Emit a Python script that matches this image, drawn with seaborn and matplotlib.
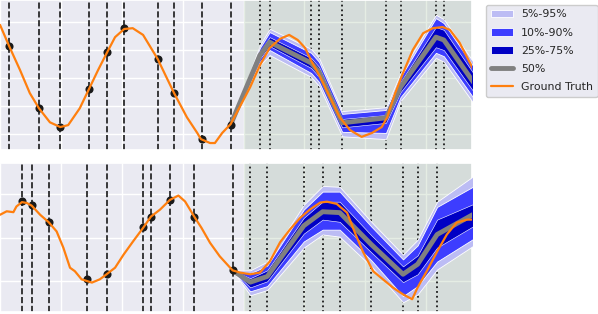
"""Quantile forecast vs ground truth, two series"""
import matplotlib
matplotlib.use('Agg')
import matplotlib.pyplot as plt
import seaborn as sns
from matplotlib.patches import Patch
from matplotlib.lines import Line2D

# ---- top series ----
top_obs_t = [0.15, 0.64, 0.99, 1.47, 1.75, 2.04, 2.59, 2.86, 3.31, 3.79]
top_obs_y = [0.57, -0.54, -0.875, -0.20, 0.46, 0.89, 0.34, -0.27, -1.09, -0.83]

top_gt_t = [0.0, 0.15, 0.33, 0.49, 0.64, 0.82, 0.99, 1.12, 1.31, 1.46, 1.61, 1.76,
            1.89, 2.04, 2.18, 2.35, 2.59, 2.74, 2.86, 3.07, 3.24, 3.30, 3.45, 3.53,
            3.65, 3.79, 3.97, 4.11, 4.27, 4.43, 4.60, 4.75, 4.89, 5.01, 5.12, 5.26,
            5.42, 5.58, 5.75, 5.94, 6.11, 6.27, 6.36, 6.49, 6.62, 6.78, 6.95, 7.11,
            7.27, 7.39, 7.55, 7.72, 7.82]
top_gt_y = [0.95, 0.57, 0.14, -0.27, -0.54, -0.79, -0.875, -0.84, -0.54, -0.20, 0.14, 0.46,
            0.73, 0.875, 0.89, 0.77, 0.34, 0.0, -0.27, -0.70, -0.98, -1.09, -1.16, -1.16,
            -0.98, -0.82, -0.45, -0.16, 0.23, 0.54, 0.70, 0.77, 0.68, 0.54, 0.29, 0.02,
            -0.34, -0.70, -0.93, -1.05, -0.98, -0.875, -0.70, -0.27, 0.09, 0.50, 0.80, 0.89,
            0.91, 0.86, 0.63, 0.27, 0.05]

top_band_t = [3.79, 4.27, 4.43, 5.11, 5.24, 5.62, 6.34, 6.58, 7.16, 7.29, 8.2]
top_q95 = [-0.83, 0.59, 0.88, 0.52, 0.36, -0.59, -0.52, 0.09, 1.13, 1.05, -0.38]
top_q90 = [-0.83, 0.54, 0.82, 0.45, 0.29, -0.64, -0.57, 0.02, 1.07, 0.98, -0.46]
top_q75 = [-0.83, 0.47, 0.73, 0.36, 0.20, -0.73, -0.66, -0.07, 0.91, 0.86, -0.59]
top_q50 = [-0.83, 0.41, 0.64, 0.27, 0.11, -0.80, -0.71, -0.16, 0.73, 0.68, -0.73]
top_q25 = [-0.83, 0.35, 0.57, 0.18, 0.02, -0.88, -0.80, -0.25, 0.55, 0.50, -0.88]
top_q10 = [-0.83, 0.29, 0.50, 0.09, -0.07, -0.96, -0.98, -0.34, 0.45, 0.39, -1.00]
top_q05 = [-0.83, 0.23, 0.41, 0.02, -0.14, -1.04, -1.09, -0.41, 0.36, 0.29, -1.09]

# ---- bottom series ----
bot_obs_t = [0.36, 0.52, 0.80, 1.43, 1.75, 2.35, 2.48, 2.79, 3.19, 3.82]
bot_obs_y = [0.825, 0.75, 0.35, -0.955, -0.825, 0.23, 0.48, 0.86, 0.48, -0.75]

bot_gt_t = [0.0, 0.11, 0.22, 0.27, 0.36, 0.44, 0.52, 0.66, 0.80, 0.93, 1.04, 1.15,
            1.23, 1.34, 1.51, 1.64, 1.75, 1.89, 2.03, 2.19, 2.35, 2.48, 2.63, 2.79,
            2.93, 3.04, 3.19, 3.31, 3.45, 3.61, 3.82, 3.94, 4.11, 4.27, 4.43, 4.60,
            4.76, 4.93, 5.09, 5.26, 5.37, 5.53, 5.70, 5.83, 5.96, 6.13, 6.29, 6.45,
            6.62, 6.77, 6.86, 7.01, 7.18, 7.34, 7.50, 7.67, 7.80]
bot_gt_y = [0.52, 0.60, 0.58, 0.71, 0.81, 0.79, 0.73, 0.52, 0.35, 0.14, -0.23, -0.69,
            -0.77, -0.955, -1.03, -0.955, -0.84, -0.69, -0.39, -0.08, 0.22, 0.48, 0.64, 0.86,
            0.96, 0.825, 0.48, 0.22, -0.12, -0.43, -0.75, -0.80, -0.84, -0.80, -0.55, -0.11,
            0.18, 0.45, 0.64, 0.80, 0.82, 0.77, 0.57, 0.11, -0.32, -0.77, -0.955, -1.14,
            -1.30, -1.41, -1.14, -0.77, -0.32, 0.07, 0.34, 0.41, 0.41]

bot_band_t = [3.82, 4.11, 4.39, 4.99, 5.30, 5.58, 6.10, 6.62, 6.86, 7.18, 8.2]
bot_q95 = [-0.75, -0.75, -0.55, 0.75, 1.18, 1.16, 0.36, -0.39, -0.05, 0.82, 1.82]
bot_q90 = [-0.75, -0.82, -0.64, 0.64, 1.05, 1.05, 0.25, -0.50, -0.18, 0.70, 1.50]
bot_q75 = [-0.75, -0.93, -0.75, 0.45, 0.82, 0.82, 0.05, -0.66, -0.41, 0.41, 1.02]
bot_q50 = [-0.75, -1.02, -0.89, 0.27, 0.59, 0.57, -0.16, -0.84, -0.61, 0.07, 0.86]
bot_q25 = [-0.75, -1.14, -1.00, 0.09, 0.41, 0.36, -0.34, -1.02, -0.84, -0.23, 0.61]
bot_q10 = [-0.75, -1.23, -1.11, -0.09, 0.18, 0.18, -0.52, -1.34, -1.11, -0.55, 0.34]
bot_q05 = [-0.75, -1.32, -1.20, -0.23, 0.07, 0.02, -0.66, -1.48, -1.30, -0.73, 0.20]

C_LIGHT = '#bcbcf4'
C_MID = '#3d3dff'
C_DARK = '#0000c4'
C_MED = '#808080'
C_GT = '#ff7f0e'
C_SPAN = '#8cad85'


def panel(ax, obs_t, obs_y, gt_t, gt_y, band_t, q, yticks, ylim):
    """Draw one series"""
    q05, q10, q25, q50, q75, q90, q95 = q
    ax.axvspan(4.0, 9.0, color=C_SPAN, alpha=0.22, lw=0, zorder=1)
    for t in obs_t:
        ax.axvline(t, color='k', ls='--', lw=1.2, zorder=2)
    for t in band_t[1:]:
        ax.axvline(t, color='k', ls=':', lw=1.3, zorder=2)

    ax.fill_between(band_t, q05, q95, color=C_LIGHT, ec='white', lw=0.6, zorder=3)
    ax.fill_between(band_t, q10, q90, color=C_MID, ec='white', lw=0.6, zorder=3)
    ax.fill_between(band_t, q25, q75, color=C_DARK, ec='white', lw=0.4, zorder=3)
    sns.lineplot(x=band_t, y=q50, color=C_MED, lw=3.5, ax=ax, zorder=4)

    sns.scatterplot(x=obs_t, y=obs_y, color='k', s=34, linewidth=0, ax=ax, zorder=5)
    sns.lineplot(x=gt_t, y=gt_y, color=C_GT, lw=1.6, ax=ax, zorder=6)

    ax.set_xlim(0, 7.75)
    ax.set_ylim(*ylim)
    ax.set_xticks(range(8))
    ax.set_yticks(yticks)
    ax.set_xticklabels([])
    ax.set_yticklabels([])
    ax.tick_params(length=0)
    ax.set_xlabel('')
    ax.set_ylabel('')


def main():
    sns.set_theme(style='darkgrid')
    plt.rcParams['font.family'] = ['DejaVu Sans']

    fig = plt.figure(figsize=(5.98, 3.14), dpi=100)
    ax1 = fig.add_axes([0.0, 0.522, 0.789, 0.478])
    ax2 = fig.add_axes([0.0, 0.006, 0.789, 0.475])

    panel(ax1, top_obs_t, top_obs_y, top_gt_t, top_gt_y, top_band_t,
          (top_q05, top_q10, top_q25, top_q50, top_q75, top_q90, top_q95),
          [-1, -0.5, 0, 0.5, 1], (-1.286, 1.393))
    panel(ax2, bot_obs_t, bot_obs_y, bot_gt_t, bot_gt_y, bot_band_t,
          (bot_q05, bot_q10, bot_q25, bot_q50, bot_q75, bot_q90, bot_q95),
          [-1, 0, 1], (-1.705, 1.705))

    handles = [
        Patch(facecolor=C_LIGHT, edgecolor='white', lw=0.6),
        Patch(facecolor=C_MID, edgecolor='white', lw=0.6),
        Patch(facecolor=C_DARK, edgecolor='white', lw=0.6),
        Line2D([], [], color=C_MED, lw=3.5),
        Line2D([], [], color=C_GT, lw=1.6),
    ]
    labels = ['5%-95%', '10%-90%', '25%-75%', '50%', 'Ground Truth']
    fig.legend(handles, labels, loc='upper left', bbox_to_anchor=(0.813, 0.984),
               borderaxespad=0, fontsize=7.9, labelspacing=0.75, handlelength=2.0,
               facecolor='#EAEAF2', edgecolor='#cccccc', framealpha=1)

    fig.savefig('out.png', dpi=100)


if __name__ == "__main__":
    main()
